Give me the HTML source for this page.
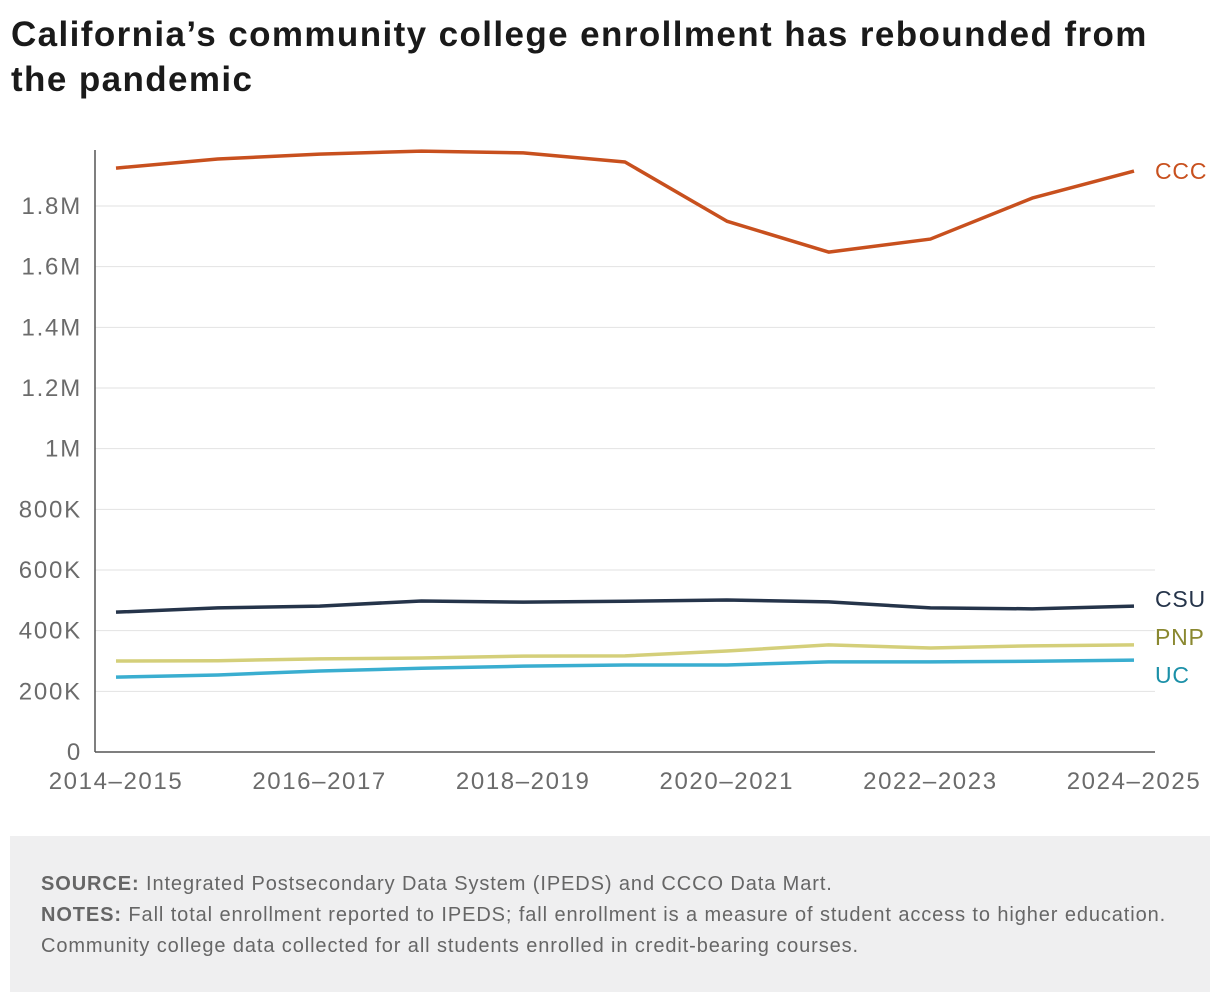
<!DOCTYPE html>
<html><head><meta charset="utf-8"><style>
body{margin:0;background:#fff;font-family:"Liberation Sans",sans-serif;}
#wrap{position:relative;width:1220px;height:1002px;overflow:hidden}
h1{position:absolute;left:11px;top:12px;margin:0;font-size:35px;line-height:45px;font-weight:bold;color:#1a1a1a;letter-spacing:1.4px;white-space:nowrap}
#foot{position:absolute;left:10px;top:836px;width:1200px;height:156px;background:#efeff0}
#foot p{margin:0;position:absolute;left:31px;font-size:20px;color:#666;line-height:22px;letter-spacing:0.9px;white-space:nowrap}
</style></head><body>
<div id="wrap">
<h1>California’s community college enrollment has rebounded from<br>the pandemic</h1>
<svg id="chart" width="1220" height="830" style="position:absolute;left:0;top:0"></svg>
<div id="foot">
<p style="top:37px"><b>SOURCE:</b> Integrated Postsecondary Data System (IPEDS) and CCCO Data Mart.</p>
<p style="top:68px"><b>NOTES:</b> Fall total enrollment reported to IPEDS; fall enrollment is a measure of student access to higher education.</p>
<p style="top:99px">Community college data collected for all students enrolled in credit-bearing courses.</p>
</div>
</div>
<script>
const categories=["2014–2015","2015–2016","2016–2017","2017–2018","2018–2019","2019–2020","2020–2021","2021–2022","2022–2023","2023–2024","2024–2025"];
const ccc=[1925000,1955000,1971000,1981000,1975000,1945000,1750000,1648000,1691000,1826000,1915000];
const csu=[461000,475000,481000,498000,494000,497000,501000,495000,475000,472000,481000];
const pnp=[300000,301000,307000,310000,316000,317000,333000,353000,343000,350000,353000];
const uc=[247000,254000,267000,276000,283000,287000,287000,297000,297000,299000,303000];
const yTicks=[0,200000,400000,600000,800000,1000000,1200000,1400000,1600000,1800000];
const yTickLabels=["0","200K","400K","600K","800K","1M","1.2M","1.4M","1.6M","1.8M"];
const seriesNames=["CCC","CSU","PNP","UC"];
const NS="http://www.w3.org/2000/svg";
const svg=document.getElementById('chart');
const x=i=>116+i*(1134-116)/(categories.length-1);
const y=v=>752-v*(752-206)/1800000;
const FONT='Liberation Sans, sans-serif';
function mk(t,a){const e=document.createElementNS(NS,t);for(const k in a)e.setAttribute(k,a[k]);svg.appendChild(e);return e;}
yTicks.forEach((v,i)=>{
  if(v>0){const g=mk('line',{x1:95,x2:1155,y1:y(v),y2:y(v),stroke:'#e2e2e2','stroke-width':1});
  
  }
  const t=mk('text',{x:82,y:y(v)+8,'text-anchor':'end','font-size':24,'letter-spacing':1.8,fill:'#6b6b6b','font-family':FONT});
  t.textContent=yTickLabels[i];
  
  
});
const ax=mk('line',{x1:95,x2:95,y1:150,y2:752,stroke:'#555','stroke-width':1.5});


const bx=mk('line',{x1:95,x2:1155,y1:752,y2:752,stroke:'#555','stroke-width':1.5});


categories.forEach((c,i)=>{
  if(i%2)return;
  const t=mk('text',{x:x(i),y:789,'text-anchor':'middle','font-size':24,'letter-spacing':1.6,fill:'#6b6b6b','font-family':FONT});
  t.textContent=c;
  
  
});
const series=[[ccc,'#c8501e','#c8501e'],[csu,'#25344a','#25344a'],[pnp,'#d4cf7a','#8a8830'],[uc,'#3aaed0','#1b90a8']];
const labelDy=[0,-7,-8,15];
series.forEach(([d,col,tc],s)=>{
  const p=mk('polyline',{points:d.map((v,i)=>x(i)+','+y(v)).join(' '),fill:'none',stroke:col,'stroke-width':3.5,'stroke-linejoin':'round'});
  
  
  const t=mk('text',{x:1155,y:y(d[d.length-1])+labelDy[s]+8,'font-size':23,'letter-spacing':0.8,fill:tc,'font-family':FONT});
  t.textContent=seriesNames[s];
  
  
});
</script>
</body></html>
